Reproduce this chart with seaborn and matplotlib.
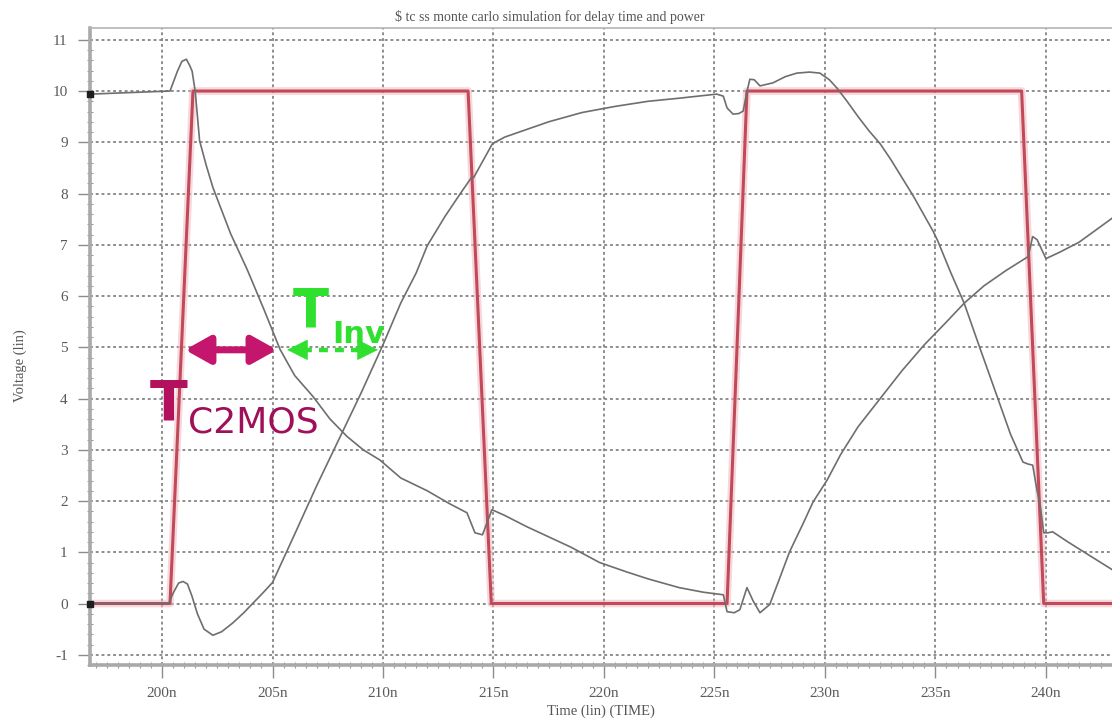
import numpy as np
import pandas as pd
import matplotlib
matplotlib.use("Agg")
import matplotlib.pyplot as plt
import seaborn as sns

# ---- waveform samples (time in ns, voltage in V) ----
clk_t = [196.74, 200.36, 201.40, 213.85, 214.90, 225.57, 226.47, 238.90, 239.90, 243.0]
clk_v = [0.0, 0.0, 10.0, 10.0, 0.0, 0.0, 10.0, 10.0, 0.0, 0.0]

q_t = [196.74, 200.30, 200.50, 200.75, 200.95, 201.15, 201.35, 201.60, 201.90, 202.30,
       202.70, 203.20, 203.70, 204.10, 204.55, 205.00, 206.00, 207.00, 208.00, 209.00,
       210.00, 210.80, 211.50, 212.00, 212.80, 213.50, 214.00, 214.10, 214.95, 215.50,
       216.30, 217.50, 219.00, 220.50, 222.00, 223.40, 225.10, 225.40, 225.57, 225.84,
       226.10, 226.30, 226.45, 226.60, 226.80, 227.06, 227.65, 228.20, 228.73, 229.30,
       229.77, 230.20, 230.54, 231.00, 231.50, 232.00, 232.50, 233.00, 233.50, 234.00,
       234.90, 235.10, 235.70, 236.30, 237.00, 237.80, 238.40, 238.96, 239.20, 239.40,
       239.60, 239.73, 239.90, 240.10, 240.30, 241.00, 242.00, 243.00]
q_v = [0.00, 0.00, 0.20, 0.40, 0.43, 0.38, 0.15, -0.20, -0.50, -0.62,
       -0.55, -0.38, -0.18, 0.00, 0.20, 0.41, 1.35, 2.30, 3.20, 4.10,
       5.05, 5.86, 6.45, 6.98, 7.55, 8.00, 8.31, 8.31, 8.97, 9.10,
       9.22, 9.40, 9.58, 9.70, 9.80, 9.86, 9.94, 9.90, 9.67, 9.55,
       9.56, 9.61, 9.95, 10.23, 10.22, 10.10, 10.16, 10.28, 10.35, 10.37,
       10.35, 10.22, 10.06, 9.80, 9.50, 9.22, 8.97, 8.65, 8.30, 7.95,
       7.26, 7.08, 6.45, 5.86, 5.00, 4.03, 3.30, 2.76, 2.72, 2.70,
       2.20, 1.95, 1.38, 1.38, 1.40, 1.20, 0.93, 0.66]

qb_t = [196.74, 200.36, 200.70, 200.90, 201.10, 201.25, 201.36, 201.50, 201.70, 202.00,
        202.30, 203.10, 203.85, 204.60, 205.34, 206.00, 206.83, 207.60, 208.37, 209.10,
        209.86, 210.80, 212.00, 213.00, 213.80, 214.16, 214.50, 214.93, 215.50, 216.50,
        217.50, 218.50, 219.80, 221.00, 222.00, 223.40, 224.50, 225.40, 225.57, 225.90,
        226.15, 226.47, 226.75, 227.06, 227.50, 228.00, 228.40, 229.00, 229.46, 230.10,
        230.70, 231.50, 232.50, 233.50, 234.50, 235.40, 236.30, 237.20, 238.20, 239.20,
        239.40, 239.60, 240.00, 240.60, 241.50, 242.30, 243.00]
qb_v = [9.94, 10.00, 10.39, 10.58, 10.62, 10.50, 10.39, 10.00, 9.03, 8.55,
        8.12, 7.22, 6.52, 5.75, 4.96, 4.45, 4.04, 3.60, 3.26, 3.00,
        2.80, 2.45, 2.20, 1.95, 1.77, 1.38, 1.34, 1.83, 1.72, 1.50,
        1.30, 1.10, 0.80, 0.62, 0.48, 0.31, 0.22, 0.17, -0.16, -0.18,
        -0.12, 0.31, 0.05, -0.18, -0.02, 0.55, 1.01, 1.55, 1.98, 2.41,
        2.90, 3.45, 4.00, 4.55, 5.05, 5.45, 5.86, 6.20, 6.50, 6.77,
        7.16, 7.10, 6.73, 6.85, 7.05, 7.30, 7.52]

x_ticks = [200, 205, 210, 215, 220, 225, 230, 235, 240]
x_tick_labels = ["200n", "205n", "210n", "215n", "220n", "225n", "230n", "235n", "240n"]
y_ticks = list(range(-1, 12))
y_tick_labels = [str(v) for v in y_ticks]

# delay measurement spans at the 5 V crossing
t_c2mos = (201.04, 205.20)
t_inv = (205.66, 209.77)
v_mid = 4.95

sns.set_style("white")
plt.rcParams["font.family"] = ["DejaVu Sans"]

fig = plt.figure(figsize=(11.12, 7.2), dpi=100)
ax = fig.add_axes([90 / 1112, 55 / 720, (1112 - 90) / 1112, (692 - 55) / 720])

red = "#c04a5a"
grey = "#6e6e6e"

clk = pd.DataFrame({"t": clk_t, "v": clk_v})
q = pd.DataFrame({"t": q_t, "v": q_v})
qb = pd.DataFrame({"t": qb_t, "v": qb_v})

# soft pink halo under the clock trace, then the trace itself
sns.lineplot(data=clk, x="t", y="v", ax=ax, sort=False, estimator=None,
             color="#f2b6c0", linewidth=5.5, alpha=0.55, zorder=2)
sns.lineplot(data=clk, x="t", y="v", ax=ax, sort=False, estimator=None,
             color=red, linewidth=2.2, zorder=3)
sns.lineplot(data=q, x="t", y="v", ax=ax, sort=False, estimator=None,
             color=grey, linewidth=1.2, zorder=4)
sns.lineplot(data=qb, x="t", y="v", ax=ax, sort=False, estimator=None,
             color=grey, linewidth=1.2, zorder=4)

# trace start markers
ax.scatter([clk_t[0], qb_t[0]], [clk_v[0], qb_v[0]], marker="s", s=22,
           color="#1e1e1e", zorder=6, clip_on=False)

ax.set_xlim(196.74, 242.99)
ax.set_ylim(-1.19, 11.23)

ax.set_xticks(x_ticks)
ax.set_xticklabels(x_tick_labels)
ax.set_yticks(y_ticks)
ax.set_yticklabels(y_tick_labels)
ax.set_xticks(np.arange(197.0, 243.0, 0.5), minor=True)
ax.set_yticks(np.arange(-1.2, 11.2, 0.2), minor=True)

for lab in ax.get_xticklabels() + ax.get_yticklabels():
    lab.set_fontfamily("Liberation Serif")
    lab.set_fontsize(11)
    lab.set_color("#5a5a5a")

ax.tick_params(which="major", direction="out", length=9, width=1.0,
               color="#8c8c8c", pad=7)
ax.tick_params(which="minor", direction="inout", length=5, width=0.8,
               color="#9a9a9a")
ax.tick_params(axis="x", which="both", bottom=True, top=False)
ax.tick_params(axis="y", which="both", left=True, right=False)

ax.grid(True, which="major", color="#858585", linestyle=(0, (1.6, 1.6)),
        linewidth=1.3, zorder=1)
ax.set_axisbelow(True)

for side in ["left", "bottom"]:
    ax.spines[side].set_color("#a9a9a9")
    ax.spines[side].set_linewidth(2.6)
ax.spines["top"].set_color("#b4b4b4")
ax.spines["top"].set_linewidth(1.2)
ax.spines["right"].set_visible(False)

ax.set_xlabel("Time (lin) (TIME)", fontfamily="Liberation Serif", fontsize=10.5,
              color="#555555", labelpad=3)
ax.set_ylabel("Voltage (lin)", fontfamily="Liberation Serif", fontsize=10.5,
              color="#555555")
ax.yaxis.set_label_coords(-0.062, 0.47)
fig.text(550 / 1112, 1 - 17 / 720,
         r"\$ tc ss monte carlo simulation for delay time and power",
         ha="center", va="center", fontfamily="Liberation Serif", fontsize=10,
         color="#555555")

# delay annotations
magenta = "#c4166c"
ax.annotate("", xy=(t_c2mos[1], v_mid), xytext=(t_c2mos[0], v_mid),
            arrowprops=dict(arrowstyle="<|-|>,head_length=0.75,head_width=0.42",
                            color=magenta, lw=5, mutation_scale=20,
                            shrinkA=0, shrinkB=0), zorder=7)
ax.text(199.46, 3.59, "T", color="#b3105e", fontsize=40, fontweight="bold",
        va="baseline", ha="left", zorder=8)
ax.text(201.18, 3.33, "C2MOS", color="#a0105a", fontsize=26,
        va="baseline", ha="left", zorder=8)

green = "#2fe02f"
ax.plot([t_inv[0] + 0.7, t_inv[1] - 0.9], [v_mid, v_mid], color=green, lw=3.2,
        linestyle=(0, (2.0, 1.6)), zorder=7, solid_capstyle="butt")
ax.annotate("", xy=(t_inv[0], v_mid), xytext=(t_inv[0] + 0.9, v_mid),
            arrowprops=dict(arrowstyle="-|>,head_length=0.7,head_width=0.35",
                            color=green, lw=0.5, mutation_scale=20,
                            shrinkA=0, shrinkB=0), zorder=7)
ax.annotate("", xy=(t_inv[1], v_mid), xytext=(t_inv[1] - 1.0, v_mid),
            arrowprops=dict(arrowstyle="-|>,head_length=0.7,head_width=0.35",
                            color=green, lw=0.5, mutation_scale=20,
                            shrinkA=0, shrinkB=0), zorder=7)
ax.text(205.93, 5.40, "T", color=green, fontsize=38, fontweight="bold",
        va="baseline", ha="left", zorder=8)
ax.text(207.69, 5.09, "Inv", color=green, fontsize=22, fontweight="bold",
        va="baseline", ha="left", zorder=8)

fig.savefig("out.png", dpi=100, facecolor="white")
